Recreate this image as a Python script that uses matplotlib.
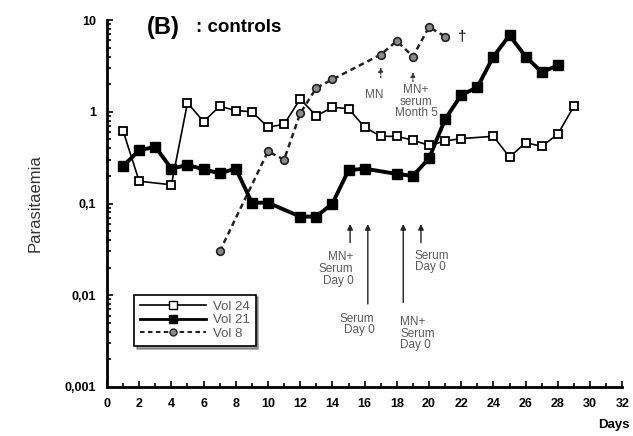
import matplotlib
matplotlib.use("Agg")
import matplotlib.pyplot as plt
from matplotlib.lines import Line2D
from matplotlib.ticker import FixedLocator, LogLocator, NullFormatter

plt.rcParams["font.family"] = ["Liberation Sans", "DejaVu Sans"]

# data (days, parasitaemia)
vol24_days = [1, 2, 4, 5, 6, 7, 8, 9, 10, 11, 12, 13, 14, 15, 16, 17, 18, 19, 20, 21, 22,
              24, 25, 26, 27, 28, 29]
vol24_vals = [0.62, 0.175, 0.16, 1.25, 0.78, 1.15, 1.03, 1.0, 0.68, 0.73, 1.38, 0.9, 1.12,
              1.08, 0.68, 0.54, 0.54, 0.49, 0.43, 0.48, 0.51, 0.54, 0.32, 0.46, 0.42, 0.57, 1.15]

vol21_days = [1, 2, 3, 4, 5, 6, 7, 8, 9, 10, 12, 13, 14, 15, 16, 18, 19, 20, 21, 22, 23,
              24, 25, 26, 27, 28]
vol21_vals = [0.256, 0.38, 0.415, 0.24, 0.263, 0.236, 0.213, 0.24, 0.102, 0.102, 0.072,
              0.072, 0.1, 0.23, 0.24, 0.21, 0.2, 0.31, 0.83, 1.52, 1.85, 4.0, 6.8, 4.0, 2.7, 3.2]

vol8_days = [7, 10, 11, 12, 13, 14, 17, 18, 19, 20, 21]
vol8_vals = [0.03, 0.37, 0.3, 0.96, 1.82, 2.25, 4.2, 5.9, 4.0, 8.4, 6.6]

y_ticks = [0.001, 0.01, 0.1, 1, 10]
y_tick_labels = ["0,001", "0,01", "0,1", "1", "10"]
x_major = list(range(0, 33, 2))

TEXT_GREY = "#5a5a5a"
NOTE_SIZE = 8.5

fig = plt.figure(figsize=(6.33, 4.36), dpi=100)
ax = fig.add_axes([0.169, 0.1124, 0.814, 0.8417])

ax.plot(vol8_days, vol8_vals, color="#222222", lw=1.8, ls=(0, (2.2, 1.6)),
        marker="o", ms=5.5, mfc="#8a8a8a", mec="#222222", mew=1.2, zorder=2)
ax.plot(vol21_days, vol21_vals, color="black", lw=2.8,
        marker="s", ms=6.5, mfc="black", mec="black", zorder=3)
ax.plot(vol24_days, vol24_vals, color="black", lw=1.2,
        marker="s", ms=5.5, mfc="white", mec="black", mew=1.3, zorder=4)

ax.set_yscale("log")
ax.set_xlim(0, 32)
ax.set_ylim(0.001, 10)

ax.set_yticks(y_ticks)
ax.set_yticklabels(y_tick_labels, fontsize=9, fontweight="bold")
ax.yaxis.set_minor_locator(LogLocator(base=10, subs=range(2, 10)))
ax.yaxis.set_minor_formatter(NullFormatter())
ax.set_xticks(x_major)
ax.set_xticklabels([str(v) for v in x_major], fontsize=9, fontweight="bold")
ax.xaxis.set_minor_locator(FixedLocator(range(1, 33, 2)))

ax.tick_params(axis="both", which="both", direction="in", width=1.2)
ax.tick_params(axis="both", which="major", length=4, pad=8)
ax.tick_params(axis="both", which="minor", length=3)

for side in ["top", "right"]:
    ax.spines[side].set_visible(False)
for side in ["left", "bottom"]:
    ax.spines[side].set_linewidth(2)

ax.set_ylabel("Parasitaemia", fontsize=12, color="#333333", labelpad=16)
fig.text(0.995, 0.012, "Days", ha="right", va="bottom", fontsize=9.5, fontweight="bold")

fig.text(0.232, 0.936, "(B)", fontsize=17, fontweight="bold", va="center")
fig.text(0.309, 0.936, ": controls", fontsize=13.5, fontweight="bold", va="center")

ax.text(21.8, 6.6, "\u2020", fontsize=11, va="center")

# annotations
arr = dict(arrowstyle="-|>", color="#222222", lw=1.0, mutation_scale=8)
arr_dot = dict(arrowstyle="-|>", color="#333333", lw=1.0, ls=(0, (1, 1.5)), mutation_scale=7)

ax.annotate("", xy=(17.0, 3.3), xytext=(17.0, 2.2), arrowprops=arr_dot)
ax.text(16.6, 1.52, "MN", fontsize=NOTE_SIZE, color=TEXT_GREY, ha="center", va="center")
ax.annotate("", xy=(19.0, 2.9), xytext=(19.0, 2.0), arrowprops=arr_dot)
ax.text(19.2, 1.28, "MN+\nserum\nMonth 5", fontsize=NOTE_SIZE, color=TEXT_GREY,
        ha="center", va="center", linespacing=0.95)

ax.annotate("", xy=(15.1, 0.064), xytext=(15.1, 0.035), arrowprops=arr)
ax.text(15.3, 0.0193, "MN+\nSerum\nDay 0", fontsize=NOTE_SIZE, color=TEXT_GREY,
        ha="right", va="center", linespacing=0.95)
ax.annotate("", xy=(16.2, 0.064), xytext=(16.2, 0.0075), arrowprops=arr)
ax.text(16.6, 0.0048, "Serum\nDay 0", fontsize=NOTE_SIZE, color=TEXT_GREY,
        ha="right", va="center", linespacing=0.95)
ax.annotate("", xy=(18.4, 0.064), xytext=(18.4, 0.0078), arrowprops=arr)
ax.text(18.2, 0.0038, "MN+\nSerum\nDay 0", fontsize=NOTE_SIZE, color=TEXT_GREY,
        ha="left", va="center", linespacing=0.95)
ax.annotate("", xy=(19.5, 0.064), xytext=(19.5, 0.035), arrowprops=arr)
ax.text(19.1, 0.0233, "Serum\nDay 0", fontsize=NOTE_SIZE, color=TEXT_GREY,
        ha="left", va="center", linespacing=0.95)

handles = [
    Line2D([0], [0], color="black", lw=1.2, marker="s", ms=5.5, mfc="white", mec="black",
           label="Vol 24"),
    Line2D([0], [0], color="black", lw=2, marker="s", ms=6, mfc="black", label="Vol 21"),
    Line2D([0], [0], color="#222222", lw=1.5, ls=(0, (2.2, 1.6)), marker="o", ms=5,
           mfc="#8a8a8a", mec="#222222", label="Vol 8"),
]
leg = ax.legend(handles=handles, loc="upper left", bbox_to_anchor=(0.04, 0.27),
                fontsize=9.5, frameon=True, fancybox=False, shadow=True, handlelength=5,
                labelspacing=0.1, borderpad=0.45, handletextpad=0.5, labelcolor=TEXT_GREY)
leg.get_frame().set_edgecolor("black")
leg.get_frame().set_linewidth(1.2)

fig.savefig("out.png", dpi=100)
